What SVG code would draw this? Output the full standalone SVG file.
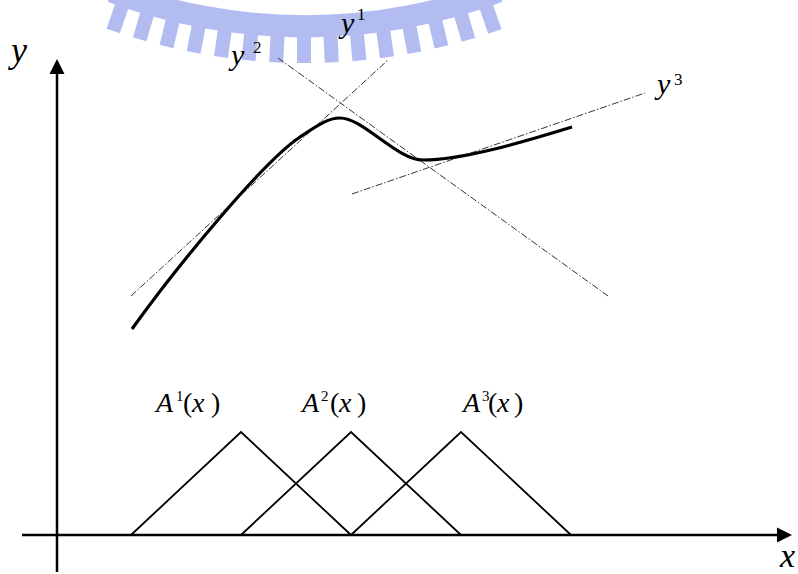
<svg xmlns="http://www.w3.org/2000/svg" width="798" height="574" viewBox="0 0 798 574">
<style>
.ax{stroke:#000;stroke-width:2.5;fill:none}
.tri{stroke:#000;stroke-width:1.8;fill:none;stroke-linejoin:miter}
.tan{stroke:#333;stroke-width:1;fill:none;stroke-dasharray:7 2 1.5 2}
.crv{stroke:#000;stroke-width:3.2;fill:none;stroke-linecap:butt}
.wm{fill:#aab5ef}
text{font-family:'Liberation Serif','Times New Roman',Times,Tinos,'DejaVu Serif','Noto Serif',serif;fill:#000}
.i{font-style:italic}
</style>
<defs>
<rect id="tooth" x="-7" y="555" width="14" height="34" class="wm"/>
</defs>
<rect width="798" height="574" fill="#fff"/>
<g id="watermark" opacity="0.9">
<path class="wm" d="M 108 2 A 566 566 0 0 0 502 2 L 502 -22 A 540 540 0 0 1 108 -22 Z"/>
<g transform="translate(305,-526)">
<use href="#tooth" transform="rotate(19)"/>
<use href="#tooth" transform="rotate(16.3)"/>
<use href="#tooth" transform="rotate(13.6)"/>
<use href="#tooth" transform="rotate(10.9)"/>
<use href="#tooth" transform="rotate(8.2)"/>
<use href="#tooth" transform="rotate(5.5)"/>
<use href="#tooth" transform="rotate(2.8)"/>
<use href="#tooth" transform="rotate(0.1)"/>
<use href="#tooth" transform="rotate(-2.6)"/>
<use href="#tooth" transform="rotate(-5.3)"/>
<use href="#tooth" transform="rotate(-8)"/>
<use href="#tooth" transform="rotate(-10.7)"/>
<use href="#tooth" transform="rotate(-13.4)"/>
<use href="#tooth" transform="rotate(-16.1)"/>
<use href="#tooth" transform="rotate(-18.8)"/>
</g>
</g>
<g id="axes">
<line class="ax" x1="57" y1="572" x2="57" y2="72"/>
<polygon points="57,59 49.5,74 64.5,74" fill="#000"/>
<line class="ax" x1="22" y1="535" x2="779" y2="535"/>
<polygon points="792,535 777,527.5 777,542.5" fill="#000"/>
</g>
<g id="tangents">
<line class="tan" x1="131" y1="296" x2="388" y2="60"/>
<line class="tan" x1="278" y1="58" x2="608" y2="296"/>
<line class="tan" x1="352" y1="194" x2="645" y2="93"/>
</g>
<g id="curve">
<path class="crv" d="M132,329 C180,262 265,160 300,137 C318,125 328,118 340,118 C363,118 397,160 423,160 C462,160 520,143 572,127"/>
</g>
<g id="memberships">
<polyline class="tri" points="131,535 241,432 351,535"/>
<polyline class="tri" points="241,535 351,432 461,535"/>
<polyline class="tri" points="351,535 461,432 571,535"/>
</g>
<g id="labels">
<text class="i" x="11" y="62" font-size="36">y</text>
<text class="i" x="780" y="567" font-size="34">x</text>
<text class="i" x="341" y="33" font-size="30">y</text><text x="357" y="20" font-size="17">1</text>
<text class="i" x="231" y="65" font-size="30">y</text><text x="253" y="53" font-size="17">2</text>
<text class="i" x="657" y="94" font-size="30">y</text><text x="674" y="85" font-size="17">3</text>
<text class="i" x="156" y="412" font-size="28">A</text><text x="176" y="401" font-size="15">1</text><text x="183" y="412" font-size="28">(</text><text class="i" x="192" y="412" font-size="28">x</text><text x="211" y="412" font-size="28">)</text>
<text class="i" x="302" y="412" font-size="28">A</text><text x="321" y="401" font-size="15">2</text><text x="330" y="412" font-size="28">(</text><text class="i" x="339" y="412" font-size="28">x</text><text x="357" y="412" font-size="28">)</text>
<text class="i" x="463" y="412" font-size="28">A</text><text x="482" y="401" font-size="15">3</text><text x="488" y="412" font-size="28">(</text><text class="i" x="497" y="412" font-size="28">x</text><text x="514" y="412" font-size="28">)</text>
</g>
</svg>
